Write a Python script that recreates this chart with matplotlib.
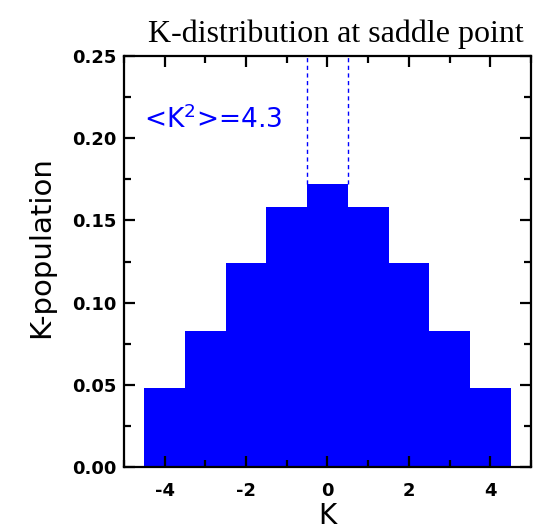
import matplotlib
matplotlib.use("Agg")
import matplotlib.pyplot as plt
from matplotlib.ticker import MultipleLocator

K_values = [-4, -3, -2, -1, 0, 1, 2, 3, 4]
population = [0.048, 0.083, 0.124, 0.158, 0.172, 0.158, 0.124, 0.083, 0.048]
x_ticks = [-4, -2, 0, 2, 4]
y_ticks = [0.00, 0.05, 0.10, 0.15, 0.20, 0.25]
annotation = r"<K$^{2}$>=4.3"
title = "K-distribution at saddle point"

fig = plt.figure(figsize=(5.43, 5.31), dpi=100)
ax = fig.add_axes([0.228, 0.1205, 0.75, 0.774])

blue = "#0000ff"
ax.bar(K_values, population, width=1.0, color=blue, edgecolor="none", align="center")

peak = population[K_values.index(0)]
for xv in (-0.5, 0.5):
    ax.plot([xv, xv], [peak, 0.25], color=blue, lw=1.0, ls=(0, (3, 2.5)))

ax.text(-4.5, 0.211, annotation, color=blue, fontsize=19, va="center", ha="left")

ax.set_xlim(-5, 5)
ax.set_ylim(0, 0.25)
ax.set_xticks(x_ticks)
ax.set_xticklabels([f"{t:d}" for t in x_ticks])
ax.set_yticks(y_ticks)
ax.set_yticklabels([f"{t:.2f}" for t in y_ticks])
ax.xaxis.set_minor_locator(MultipleLocator(1))
ax.yaxis.set_minor_locator(MultipleLocator(0.025))

for sp in ax.spines.values():
    sp.set_linewidth(1.6)

ax.tick_params(which="both", direction="in", top=True, right=True, width=1.6)
ax.tick_params(which="major", length=8, labelsize=13)
ax.tick_params(which="minor", length=5)
ax.tick_params(axis="y", which="major", pad=5)
ax.tick_params(axis="x", which="major", pad=11)
for lab in ax.get_xticklabels() + ax.get_yticklabels():
    lab.set_fontweight("bold")

ax.set_xlabel("K", fontsize=20)
ax.xaxis.set_label_coords(0.5, -0.085)
ax.set_ylabel("K-population", fontsize=21)
ax.yaxis.set_label_coords(-0.168, 0.535)
ax.set_title(title, fontsize=23, family="Liberation Serif", pad=10, x=0.52)

fig.savefig("out.png", dpi=100)
